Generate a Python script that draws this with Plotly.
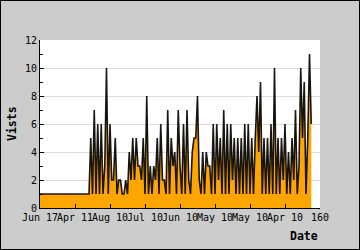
import plotly.graph_objects as go

visits = [
    1, 1, 1, 1, 1, 1, 1, 1, 1, 1,
    1, 1, 1, 1, 1, 1, 1, 1, 1, 1,
    1, 1, 1, 1, 1, 1, 1, 1, 1,
    5, 1, 7, 1, 6, 1, 6, 1, 3, 10,
    1, 6, 2, 2, 5, 1, 2, 2, 1, 1,
    2, 1, 4, 2, 5, 2, 5, 3, 3, 2,
    5, 1, 8, 1, 3, 1, 3, 2, 5, 1,
    6, 2, 2, 1, 7, 1, 5, 3, 4, 1,
    7, 3, 1, 6, 1, 7, 2, 1, 4, 5,
    5, 8, 2, 1, 4, 1, 4, 3, 3, 1,
    6, 1, 6, 2, 5, 1, 7, 1, 6, 1,
    6, 2, 5, 1, 5, 1, 5, 1, 6, 1,
    6, 1, 5, 1, 5, 8, 4, 9, 1, 5,
    1, 5, 1, 6, 1, 10, 1, 5, 1, 5,
    2, 6, 1, 4, 1, 5, 2, 7, 1, 3,
    10, 5, 9, 1, 5, 11, 6,
]
xs = list(range(len(visits)))

tick_vals = [0, 20, 40, 60, 80, 100, 120, 140, 160]
tick_text = ["Jun 17", "Apr 11", "Aug 10", "Jul 10", "Jun 10",
             "May 10", "May 10", "Apr 10", "160"]

mono = "DejaVu Sans Mono"

fig = go.Figure()
fig.add_trace(go.Scatter(
    x=xs, y=visits, mode="lines", fill="tozeroy",
    fillcolor="#FFA500",
    line=dict(color="rgba(0,0,0,0.9)", width=1.6),
    hoverinfo="skip", showlegend=False,
))

fig.update_layout(
    width=360, height=250,
    margin=dict(l=40, r=40, t=40, b=42),
    paper_bgcolor="#cccccc",
    plot_bgcolor="#ffffff",
    font=dict(family=mono, size=10, color="#000000"),
    xaxis=dict(
        range=[0, 160], tickvals=tick_vals, ticktext=tick_text,
        showgrid=False, zeroline=False,
        showline=True, linecolor="#000000", linewidth=1,
        ticks="inside", ticklen=4, tickcolor="#000000",
        tickfont=dict(family=mono, size=10),
        tickangle=0,
    ),
    yaxis=dict(
        range=[0, 12], dtick=2, tick0=0,
        showgrid=True, gridcolor="#dcdcdc", gridwidth=1,
        zeroline=False,
        showline=True, linecolor="#000000", linewidth=1,
        ticks="inside", ticklen=4, tickcolor="#000000",
        minor=dict(ticks="inside", ticklen=3, dtick=1, tickcolor="#000000", showgrid=False),
        tickfont=dict(family=mono, size=10),
    ),
    annotations=[
        dict(text="<b>Vists</b>", xref="paper", yref="paper",
             x=-0.1, y=0.5, xanchor="center", yanchor="middle",
             textangle=-90, showarrow=False,
             font=dict(family=mono, size=11.5, color="#000000")),
        dict(text="<b>Date</b>", xref="paper", yref="paper",
             x=1.0, y=-0.165, xanchor="right", yanchor="middle",
             showarrow=False,
             font=dict(family=mono, size=11.5, color="#000000")),
    ],
    shapes=[
        dict(type="rect", xref="paper", yref="paper",
             x0=-39.5 / 280, x1=319.5 / 280,
             y0=-41.5 / 168, y1=207.5 / 168,
             line=dict(color="#000000", width=1), fillcolor="rgba(0,0,0,0)",
             layer="above"),
    ],
)

fig.write_html("out.html")
